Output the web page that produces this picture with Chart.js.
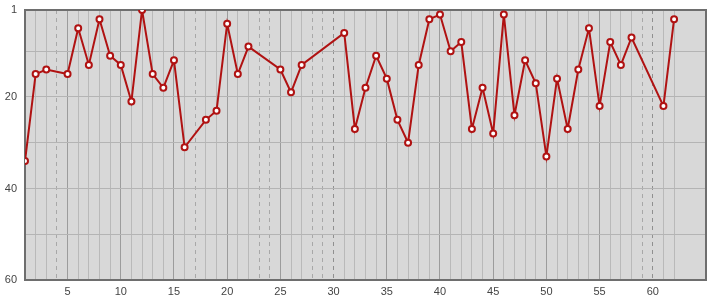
<!DOCTYPE html>
<html>
<head>
<meta charset="utf-8">
<script src="https://cdn.jsdelivr.net/npm/chart.js@4"></script>
<style>
html,body{margin:0;padding:0;background:#fff;}
#c{display:block;}
</style>
</head>
<body>
<canvas id="c" width="715" height="300"></canvas>
<script>
const xValues = [1,2,3,5,6,7,8,9,10,11,12,13,14,15,16,18,19,20,21,22,25,26,27,31,32,33,34,35,36,37,38,39,40,41,42,43,44,45,46,47,48,49,50,51,52,53,54,55,56,57,58,61,62];
const yValues = [34,15,14,15,5,13,3,11,13,21,1,15,18,12,31,25,23,4,15,9,14,19,13,6,27,18,11,16,25,30,13,3,2,10,8,27,18,28,2,24,12,17,33,16,27,14,5,22,8,13,7,22,3];
const yGridTicks = [1,10,20,30,40,50,60];
const yLabelTicks = [1,20,40,60];
const xLabelStep = 5;
const xMin = 1, xMax = 65;

const points = xValues.map((x,i)=>({x:x, y:yValues[i]}));
const lastX = Math.max(...xValues);
const present = new Set(xValues);

const framePlugin = {
  id:'frame',
  beforeDraw(chart){
    const {ctx, chartArea:a} = chart;
    ctx.save();
    ctx.fillStyle = '#d8d8d8';
    ctx.fillRect(a.left, a.top, a.right-a.left, a.bottom-a.top);
    ctx.restore();
  },
  beforeDatasetsDraw(chart){
    const {ctx, chartArea:a} = chart;
    ctx.save();
    ctx.strokeStyle = '#6e6e6e';
    ctx.lineWidth = 2;
    ctx.strokeRect(a.left, a.top, a.right-a.left, a.bottom-a.top);
    ctx.restore();
  }
};

new Chart(document.getElementById('c'), {
  type:'line',
  data:{datasets:[{
    data: points,
    borderColor:'#b01212',
    borderWidth:2,
    tension:0,
    pointRadius:3,
    pointHoverRadius:3,
    pointBorderWidth:2,
    pointBorderColor:'#b01212',
    pointBackgroundColor:'#ffffff',
    spanGaps:true
  }]},
  options:{
    responsive:false,
    animation:false,
    events:[],
    layout:{padding:{top:10,right:9,left:0,bottom:0}},
    plugins:{legend:{display:false},tooltip:{enabled:false}},
    scales:{
      x:{
        type:'linear',
        min:xMin, max:xMax,
        afterBuildTicks(axis){
          const t=[]; for(let v=xMin; v<=xMax; v++) t.push({value:v});
          axis.ticks=t;
        },
        afterFit(axis){ axis.height = 20; axis.paddingLeft = 0; axis.paddingRight = 0; },
        ticks:{
          autoSkip:false, maxRotation:0,
          padding:5,
          color:'#444',
          font:{family:'"Liberation Sans", Arial, sans-serif', size:11},
          callback:(v)=> (v % xLabelStep === 0 && v <= lastX) ? String(v) : ''
        },
        grid:{
          drawTicks:false,
          lineWidth:1,
          color:(c)=>{
            const v=c.tick && c.tick.value;
            if(v===undefined || v>lastX) return 'rgba(0,0,0,0)';
            if(!present.has(v)) return v%5===0 ? '#909090' : '#a8a8a8';
            return v%5===0 ? '#9c9c9c' : '#b9b9b9';
          }
        },
        border:{
          display:false,
          dash:(c)=>{
            const v=c.tick && c.tick.value;
            return (v!==undefined && v<=lastX && !present.has(v)) ? [4,4] : [];
          }
        }
      },
      y:{
        type:'linear',
        reverse:true,
        min:1, max:60,
        afterBuildTicks(axis){ axis.ticks = yGridTicks.map(v=>({value:v})); },
        afterFit(axis){ axis.width = 25; axis.paddingTop = 0; axis.paddingBottom = 0; },
        ticks:{
          autoSkip:false,
          padding:8,
          color:'#444',
          font:{family:'"Liberation Sans", Arial, sans-serif', size:11},
          callback:(v)=> yLabelTicks.includes(v) ? String(v) : ''
        },
        grid:{drawTicks:false, color:'#b4b4b4', lineWidth:1},
        border:{display:false}
      }
    }
  },
  plugins:[framePlugin]
});
</script>
</body>
</html>
